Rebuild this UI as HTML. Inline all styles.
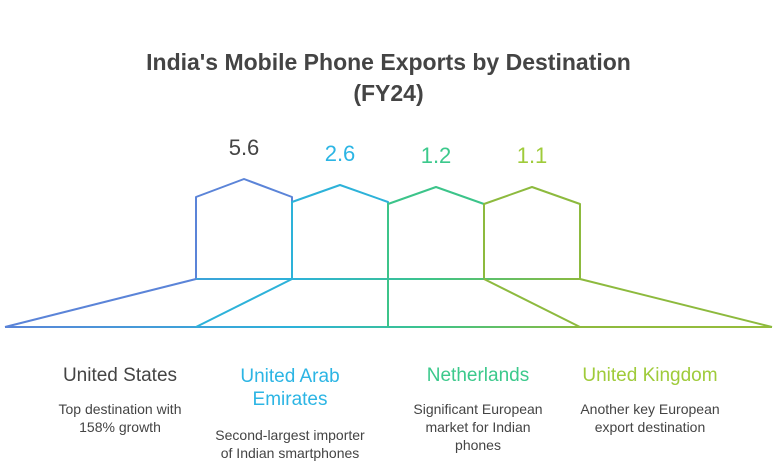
<!DOCTYPE html>
<html><head><style>
body{margin:0;background:#fff;width:777px;height:472px;overflow:hidden;font-family:"Liberation Sans",sans-serif;}
.t{position:absolute;text-align:center;}
</style></head><body>
<div class="t" style="left:0;width:777px;top:47px;font-size:23px;font-weight:bold;color:#444;line-height:31px">India's Mobile Phone Exports by Destination<br>(FY24)</div>
<div class="t" style="left:196px;width:96px;top:135px;font-size:22px;color:#444">5.6</div>
<div class="t" style="left:292px;width:96px;top:141px;font-size:22px;color:#2cb5e4">2.6</div>
<div class="t" style="left:388px;width:96px;top:143px;font-size:22px;color:#3cc98c">1.2</div>
<div class="t" style="left:484px;width:96px;top:143px;font-size:22px;color:#9fcb3a">1.1</div>
<svg style="position:absolute;left:0;top:0" width="777" height="472">
<defs><linearGradient id="g" x1="0" x2="777" gradientUnits="userSpaceOnUse">
<stop offset="0" stop-color="#5b84d8"/><stop offset="0.38" stop-color="#2db2d9"/><stop offset="0.55" stop-color="#3cc48a"/><stop offset="0.75" stop-color="#8dba3e"/><stop offset="1" stop-color="#97bd3c"/></linearGradient></defs>
<g fill="none" stroke-width="2" stroke-linejoin="round">
<polyline stroke="#5b84d8" points="196,279 196,197 244,179 292,197 292,279"/>
<polyline stroke="#2db2d9" points="292,279 292,202 340,185 388,202 388,279"/>
<polyline stroke="#3cc48a" points="388,279 388,204 436,187 484,204 484,279"/>
<polyline stroke="#8dba3e" points="484,279 484,204 532,187 580,204 580,279"/>
<line stroke="url(#g)" x1="196" y1="279" x2="580" y2="279"/>
<line stroke="url(#g)" x1="5" y1="327" x2="772" y2="327"/>
<line stroke="#5b84d8" x1="5" y1="327" x2="196" y2="279"/>
<line stroke="#2db2d9" x1="196" y1="327" x2="292" y2="279"/>
<line stroke="#3cc48a" x1="388" y1="327" x2="388" y2="279"/>
<line stroke="#8dba3e" x1="484" y1="279" x2="580" y2="327"/>
<line stroke="#8dba3e" x1="580" y1="279" x2="772" y2="327"/>
</g></svg>
<div class="t" style="left:20px;width:200px;top:365px;font-size:19px;color:#444">United States</div>
<div class="t" style="left:20px;width:200px;top:400px;font-size:14px;color:#444;line-height:18px">Top destination with<br>158% growth</div>
<div class="t" style="left:190px;width:200px;top:365px;font-size:19px;color:#2cb5e4;line-height:23px">United Arab<br>Emirates</div>
<div class="t" style="left:190px;width:200px;top:426px;font-size:14px;color:#444;line-height:18px">Second-largest importer<br>of Indian smartphones</div>
<div class="t" style="left:378px;width:200px;top:365px;font-size:19px;color:#3cc98c">Netherlands</div>
<div class="t" style="left:378px;width:200px;top:400px;font-size:14px;color:#444;line-height:18px">Significant European<br>market for Indian<br>phones</div>
<div class="t" style="left:550px;width:200px;top:365px;font-size:19px;color:#9fcb3a">United Kingdom</div>
<div class="t" style="left:550px;width:200px;top:400px;font-size:14px;color:#444;line-height:18px">Another key European<br>export destination</div>
</body></html>
